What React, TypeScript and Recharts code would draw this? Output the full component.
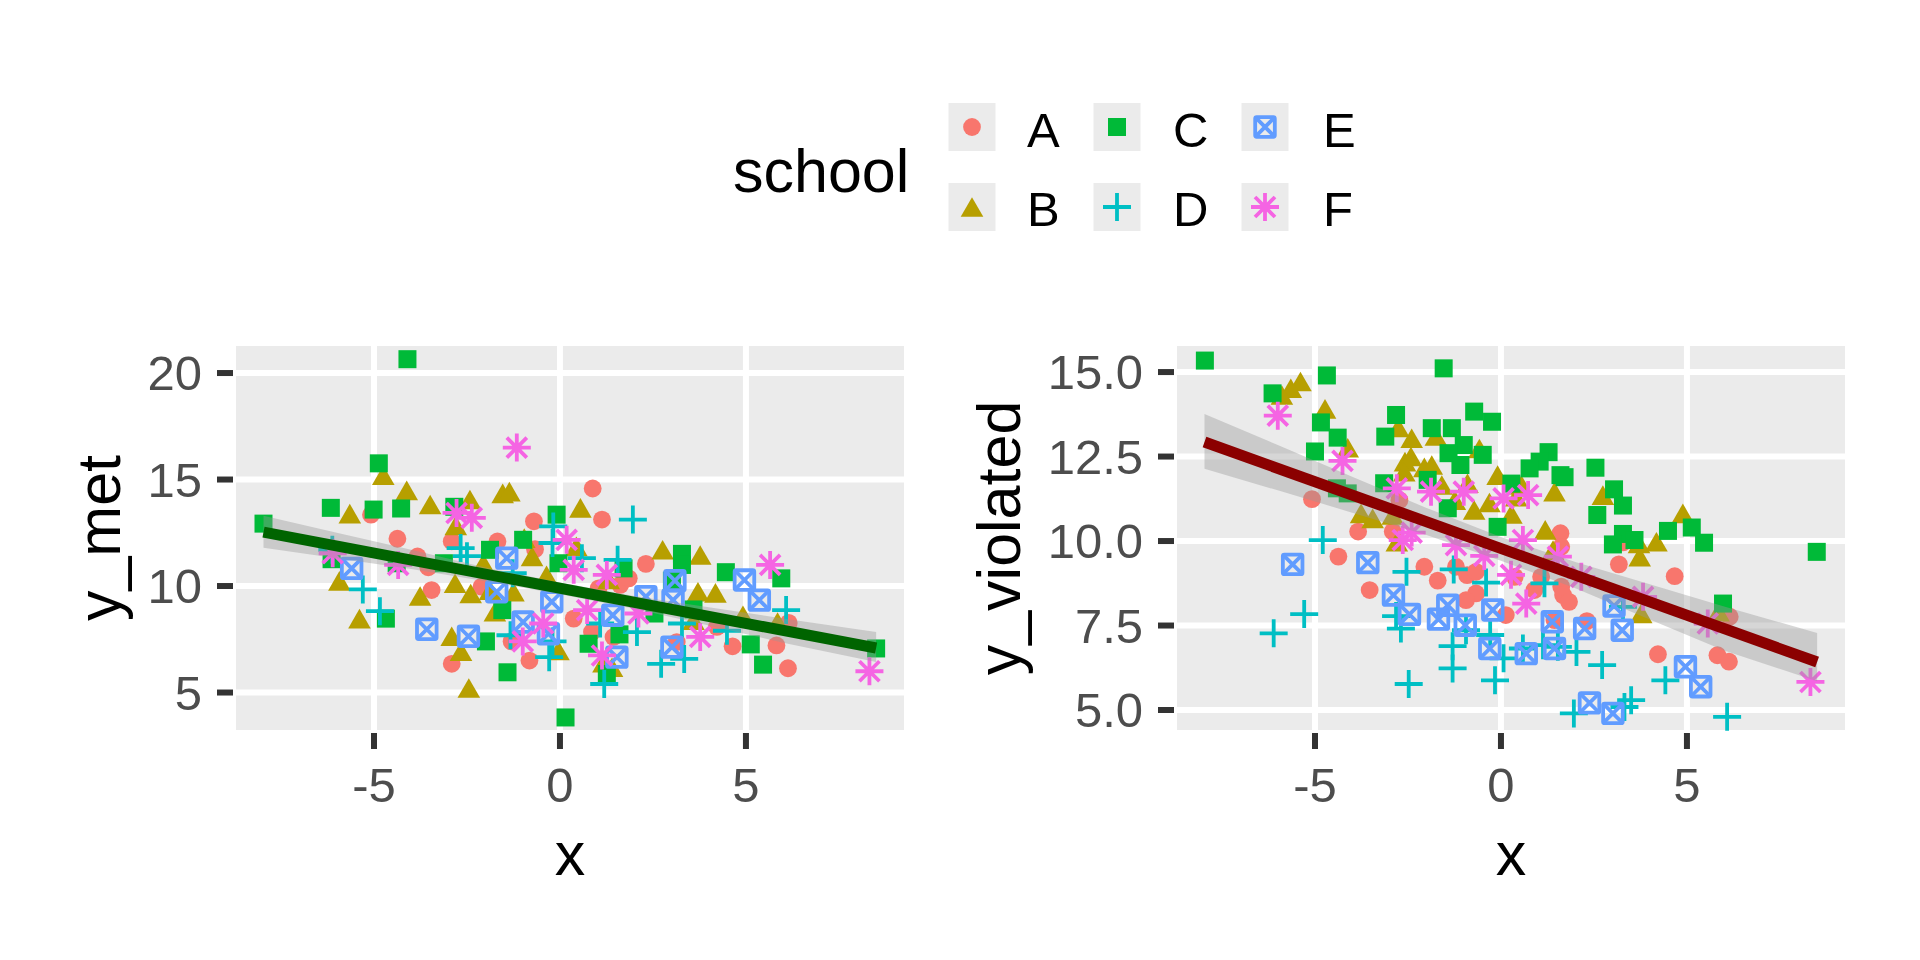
import {
  ComposedChart,
  Scatter,
  Area,
  Line,
  XAxis,
  YAxis,
  CartesianGrid,
} from "recharts";

const FONT = "'Liberation Sans', Arial, sans-serif";

const SCHOOLS = ["A", "B", "C", "D", "E", "F"];
const SCHOOL_COLORS: Record<string, string> = {
  A: "#F8766D",
  B: "#B79F00",
  C: "#00BA38",
  D: "#00BFC4",
  E: "#619CFF",
  F: "#F564E3",
};
const SCHOOL_SHAPES: Record<string, string> = {
  A: "circle",
  B: "triangle",
  C: "square",
  D: "plus",
  E: "boxcross",
  F: "asterisk",
};

// y_met panel, [x, y] per school
const metA: [number, number][] = [
  [-5.08, 13.35], [-4.37, 12.22], [-3.83, 11.39], [-3.54, 10.88], [-3.45, 9.81], [-2.91, 12.1],
  [-1.68, 12.09], [-0.7, 13.04], [-0.67, 11.73], [-2.11, 9.97], [-2.91, 6.35], [-0.82, 6.5],
  [-1.3, 7.4], [0.37, 8.47], [0.88, 14.58], [1.13, 13.12], [2.31, 11.04], [1.62, 10.05],
  [1.85, 10.36], [1.04, 9.89], [0.86, 7.84], [1.44, 7.61], [3.14, 7.37], [4.64, 7.17],
  [5.82, 7.21], [6.15, 8.27], [6.13, 6.14], [4.22, 8.08],
];
const metB: [number, number][] = [
  [-4.75, 15.2], [-4.12, 14.49], [-3.49, 13.83], [-5.65, 13.4], [-2.42, 14.06], [-1.54, 14.35],
  [-1.36, 14.43], [-2.8, 12.85], [-0.96, 12.25], [-0.75, 11.39], [-5.93, 10.24], [-5.39, 8.47],
  [-3.76, 9.53], [-2.82, 10.13], [-2.4, 9.65], [-2.06, 11.07], [-1.88, 9.81], [-1.25, 9.73],
  [-1.75, 8.79], [-2.91, 7.64], [-2.66, 6.94], [-2.45, 5.21], [-0.04, 6.98], [-0.36, 10.5],
  [0.55, 13.67], [0.44, 11.86], [2.76, 11.7], [3.77, 11.46], [1.31, 10.31], [3.71, 9.73],
  [4.18, 9.68], [4.92, 8.63], [5.85, 8.31], [3.59, 8.39], [1.4, 6.19], [1.17, 6.4],
];
const metC: [number, number][] = [
  [-4.1, 20.65], [-4.87, 15.76], [-7.97, 12.93], [-6.16, 13.67], [-5.01, 13.59], [-4.27, 13.64],
  [-2.84, 13.72], [-6.14, 11.26], [-4.39, 11.07], [-4.68, 8.47], [-1.88, 11.7], [-0.09, 13.35],
  [-0.99, 12.17], [-0.04, 11.07], [-1.55, 8.87], [-1.99, 7.4], [-1.41, 5.95], [0.15, 3.83],
  [-3.12, 11.07], [3.28, 11.51], [3.28, 10.99], [4.46, 10.65], [5.95, 10.36], [1.71, 10.83],
  [3.01, 10.25], [3.59, 8.9], [1.6, 7.73], [0.77, 7.29], [2.54, 8.71], [5.13, 7.26],
  [5.46, 6.31], [8.5, 7.07], [1.26, 5.87],
];
const metD: [number, number][] = [
  [-5.3, 9.84], [-4.84, 8.82], [-6.12, 11.7], [-2.67, 11.78], [-2.5, 11.4], [-0.18, 12.8],
  [-0.2, 12.02], [-1.27, 10.6], [-1.33, 7.69], [-0.29, 6.66], [-0.2, 7.4], [1.96, 13.12],
  [1.55, 11.23], [0.59, 11.31], [2.07, 7.84], [1.08, 8.24], [2.72, 6.35], [3.34, 6.58],
  [1.19, 5.4], [6.08, 8.87], [4.49, 7.9], [3.28, 8.24],
];
const metE: [number, number][] = [
  [-5.6, 10.83], [-1.43, 11.31], [-3.58, 7.97], [-2.46, 7.64], [-0.99, 8.31], [-0.22, 9.26],
  [-0.31, 7.76], [-1.7, 9.73], [3.09, 10.25], [4.96, 10.28], [5.36, 9.34], [3.04, 9.34],
  [2.31, 9.5], [1.42, 8.63], [3.01, 7.13], [1.53, 6.66],
];
const metF: [number, number][] = [
  [-1.16, 16.5], [-2.78, 13.43], [-2.37, 13.2], [-6.11, 11.54], [-4.35, 10.99], [-0.45, 8.24],
  [-1.0, 7.4], [0.18, 12.17], [5.65, 10.99], [0.37, 10.76], [1.26, 10.52], [0.73, 8.87],
  [2.11, 8.71], [3.77, 7.61], [1.13, 6.74], [8.32, 6.0],
];

// y_violated panel
const violA: [number, number][] = [
  [-5.08, 11.24], [-3.84, 10.28], [-4.37, 9.54], [-3.53, 8.55], [-2.91, 10.28], [-2.73, 11.21],
  [-2.06, 9.24], [-1.7, 8.83], [-1.21, 9.24], [-0.91, 8.99], [-0.67, 9.09], [-0.67, 8.45],
  [-0.94, 8.25], [0.13, 7.81], [1.6, 10.23], [1.62, 9.83], [3.28, 9.96], [3.17, 9.31],
  [4.67, 8.96], [0.37, 8.94], [1.08, 8.94], [0.9, 8.55], [1.62, 8.65], [1.67, 8.4],
  [1.83, 8.2], [1.44, 7.66], [2.31, 7.63], [4.22, 6.65], [5.82, 6.62], [6.13, 6.43], [6.15, 7.76],
];
const violB: [number, number][] = [
  [-5.39, 14.72], [-5.65, 14.52], [-5.89, 14.32], [-4.73, 13.91], [-4.12, 12.76], [-2.76, 13.36],
  [-2.4, 13.04], [-1.75, 13.11], [-2.58, 12.35], [-2.42, 12.5], [-2.6, 12.05], [-2.06, 12.18],
  [-1.86, 12.25], [-1.59, 11.66], [-0.58, 12.74], [-0.9, 11.71], [-1.24, 11.21], [-0.72, 10.92],
  [-0.31, 11.14], [-0.09, 11.95], [-3.76, 10.82], [-3.45, 10.67], [-2.91, 10.77], [-2.8, 9.98],
  [0.55, 11.66], [0.41, 11.31], [1.44, 11.46], [2.74, 11.36], [0.28, 10.8], [1.19, 10.33],
  [1.4, 9.73], [3.71, 9.93], [3.73, 9.54], [4.18, 9.98], [4.89, 10.82], [3.77, 7.86], [5.85, 7.91],
];
const violC: [number, number][] = [
  [-7.96, 15.34], [-6.14, 14.37], [-4.68, 14.9], [-4.84, 13.51], [-4.39, 13.06], [-5.0, 12.65],
  [-1.54, 15.11], [-2.82, 13.73], [-3.11, 13.09], [-1.86, 13.34], [-1.32, 13.34], [-0.72, 13.83],
  [-0.24, 13.53], [-1.0, 12.84], [-1.41, 12.6], [-0.49, 12.55], [-1.09, 12.25], [-3.14, 11.71],
  [-1.97, 11.81], [-1.43, 10.97], [-4.41, 11.56], [-4.12, 11.41], [-0.09, 10.42], [1.28, 12.63],
  [1.04, 12.35], [0.77, 12.15], [1.6, 11.95], [1.71, 11.89], [2.54, 12.17], [3.04, 11.53],
  [3.28, 11.05], [2.59, 10.77], [3.28, 10.21], [3.59, 10.03], [3.01, 9.9], [4.49, 10.3],
  [5.13, 10.4], [5.46, 9.95], [8.49, 9.68], [5.97, 8.15], [0.28, 11.7],
];
const violD: [number, number][] = [
  [-4.79, 10.03], [-5.29, 7.84], [-6.11, 7.27], [-2.54, 9.09], [-1.27, 9.16], [-0.4, 8.77],
  [-2.82, 7.78], [-2.69, 7.41], [-0.94, 7.36], [-1.3, 6.89], [-1.3, 6.23], [-2.48, 5.77],
  [-0.16, 5.88], [-0.29, 7.22], [0.07, 6.53], [1.17, 8.75], [0.59, 6.82], [1.13, 6.92],
  [1.53, 6.87], [2.03, 6.72], [2.72, 6.33], [4.42, 5.88], [3.5, 5.29], [3.32, 5.09],
  [1.96, 4.9], [6.08, 4.8], [3.28, 8.05],
];
const violE: [number, number][] = [
  [-5.6, 9.31], [-3.58, 9.36], [-2.89, 8.4], [-2.46, 7.83], [-1.68, 7.69], [-1.43, 8.1],
  [-0.96, 7.51], [-0.22, 7.96], [-0.3, 6.82], [1.38, 7.61], [2.25, 7.41], [3.04, 8.08],
  [3.26, 7.36], [0.68, 6.67], [1.44, 6.82], [4.96, 6.28], [5.37, 5.69], [2.38, 5.21], [3.01, 4.9],
];
const violF: [number, number][] = [
  [-6.0, 13.71], [-4.26, 12.37], [-2.8, 11.56], [-1.88, 11.46], [-1.0, 11.46], [-2.4, 10.25],
  [-2.64, 10.03], [-1.21, 9.88], [-0.45, 9.56], [0.07, 11.26], [0.27, 9.0], [0.59, 10.03],
  [0.73, 11.36], [1.53, 9.54], [2.16, 8.94], [0.68, 8.15], [3.82, 8.35], [5.56, 7.56], [8.32, 5.83],
];

// smoother: fitted line ends and confidence band
const bandX = [-7.97, -6, -4, -2, 0, 2, 4, 6, 8.5];
const metBandLo = [11.8, 11.3, 10.8, 10.23, 9.62, 8.93, 8.15, 7.34, 6.43];
const metBandHi = [13.3, 12.5, 11.7, 10.87, 10.16, 9.53, 9.0, 8.48, 7.84];
const metFit = [12.53, 7.09];
const violBandLo = [12.14, 11.5, 10.84, 10.18, 9.42, 8.6, 7.68, 6.76, 5.85];
const violBandHi = [13.76, 12.84, 11.9, 10.98, 10.12, 9.38, 8.72, 8.06, 7.28];
const violFit = [12.93, 6.42];

const X_TICKS = [-5, 0, 5];
const MET_TICKS = [5, 10, 15, 20];
const VIOL_TICKS = [5, 7.5, 10, 12.5, 15];

const toPoints = (arr: [number, number][]) => arr.map(([x, y]) => ({ x, y }));

const buildSmooth = (lo: number[], hi: number[], fit: number[]) =>
  bandX.map((x, i) => ({
    x,
    band: [lo[i], hi[i]],
    fit: i === 0 ? fit[0] : i === bandX.length - 1 ? fit[1] : null,
  }));

function Glyph({ cx, cy, shape, color }: { cx: number; cy: number; shape: string; color: string }) {
  if (cx == null || cy == null) return null;
  switch (shape) {
    case "circle":
      return <circle cx={cx} cy={cy} r={8.9} fill={color} />;
    case "square":
      return <rect x={cx - 9} y={cy - 9} width={18} height={18} fill={color} />;
    case "triangle":
      return (
        <polygon
          points={`${cx},${cy - 9.8} ${cx + 11.3},${cy + 9.8} ${cx - 11.3},${cy + 9.8}`}
          fill={color}
        />
      );
    case "plus":
      return (
        <path
          d={`M${cx - 14},${cy}H${cx + 14}M${cx},${cy - 14}V${cy + 14}`}
          stroke={color}
          strokeWidth={3.8}
          fill="none"
        />
      );
    case "boxcross":
      return (
        <g stroke={color} strokeWidth={3.8} fill="none">
          <rect x={cx - 9.8} y={cy - 9.8} width={19.6} height={19.6} rx={1.5} />
          <path d={`M${cx - 9.8},${cy - 9.8}L${cx + 9.8},${cy + 9.8}M${cx + 9.8},${cy - 9.8}L${cx - 9.8},${cy + 9.8}`} />
        </g>
      );
    default:
      return (
        <path
          d={`M${cx - 14},${cy}H${cx + 14}M${cx},${cy - 14}V${cy + 14}M${cx - 10},${cy - 10}L${cx + 10},${cy + 10}M${cx + 10},${cy - 10}L${cx - 10},${cy + 10}`}
          stroke={color}
          strokeWidth={3.8}
          fill="none"
        />
      );
  }
}

function AxisTitle({ tx, ty, rotate, text }: { tx: number; ty: number; rotate?: boolean; text: string }) {
  return (
    <text
      x={tx}
      y={ty}
      textAnchor="middle"
      transform={rotate ? `rotate(-90 ${tx} ${ty})` : undefined}
      style={{ fontFamily: FONT, fontSize: 61, fill: "#000" }}
    >
      {text}
    </text>
  );
}

type PanelProps = {
  left: number;
  yTitle: string;
  yTitleX: number;
  yAxisWidth: number;
  rightMargin: number;
  yDomain: [number, number];
  yTicks: number[];
  yFormat?: (v: number) => string;
  series: [number, number][][];
  smooth: { x: number; band: number[]; fit: number | null }[];
  lineColor: string;
};

function Panel(p: PanelProps) {
  const tickStyle = { fill: "#4D4D4D", fontSize: 49, fontFamily: FONT };
  const tickLine = { stroke: "#333333", strokeWidth: 6 };
  return (
    <div style={{ position: "absolute", left: p.left, top: 0 }}>
      <ComposedChart
        width={960}
        height={960}
        data={p.smooth}
        margin={{ top: 343, right: p.rightMargin, bottom: 127, left: 0 }}
      >
        <CartesianGrid fill="#EBEBEB" fillOpacity={1} stroke="#FFFFFF" strokeWidth={6} />
        <XAxis
          type="number"
          dataKey="x"
          domain={[-8.79, 9.33]}
          ticks={X_TICKS}
          allowDataOverflow
          height={100}
          axisLine={false}
          tickLine={tickLine}
          tickSize={16}
          tickMargin={18}
          tick={tickStyle}
          label={<AxisTitle tx={p.yAxisWidth + (960 - p.yAxisWidth - p.rightMargin) / 2} ty={875} text="x" />}
        />
        <YAxis
          type="number"
          dataKey="y"
          domain={p.yDomain}
          ticks={p.yTicks}
          allowDataOverflow
          width={p.yAxisWidth}
          axisLine={false}
          tickLine={tickLine}
          tickSize={16}
          tickMargin={15}
          tick={tickStyle}
          tickFormatter={p.yFormat}
          label={<AxisTitle tx={p.yTitleX} ty={538} rotate text={p.yTitle} />}
        />
        {p.series.map((pts, i) => (
          <Scatter
            key={SCHOOLS[i]}
            data={toPoints(pts)}
            isAnimationActive={false}
            shape={(s: any) => (
              <Glyph cx={s.cx} cy={s.cy} shape={SCHOOL_SHAPES[SCHOOLS[i]]} color={SCHOOL_COLORS[SCHOOLS[i]]} />
            )}
          />
        ))}
        <Area
          type="linear"
          dataKey="band"
          stroke="none"
          fill="#999999"
          fillOpacity={0.4}
          isAnimationActive={false}
          activeDot={false}
          zIndex={700}
        />
        <Line
          type="linear"
          dataKey="fit"
          connectNulls
          stroke={p.lineColor}
          strokeWidth={11}
          dot={false}
          activeDot={false}
          isAnimationActive={false}
          zIndex={800}
        />
      </ComposedChart>
    </div>
  );
}

function SchoolLegend() {
  const cols = [272, 417, 565];
  const rows = [47, 127];
  const labelX = [327, 473, 623];
  const labelY = [67, 146];
  return (
    <svg width={680} height={170} style={{ position: "absolute", left: 700, top: 80 }}>
      <text x={33} y={112} style={{ fontFamily: FONT, fontSize: 61, fill: "#000" }}>
        school
      </text>
      {SCHOOLS.map((s, i) => {
        const c = Math.floor(i / 2);
        const r = i % 2;
        return (
          <g key={s}>
            <rect x={cols[c] - 23.5} y={rows[r] - 24} width={47} height={48} fill="#EBEBEB" />
            <Glyph cx={cols[c]} cy={rows[r]} shape={SCHOOL_SHAPES[s]} color={SCHOOL_COLORS[s]} />
            <text x={labelX[c]} y={labelY[r]} style={{ fontFamily: FONT, fontSize: 49, fill: "#000" }}>
              {s}
            </text>
          </g>
        );
      })}
    </svg>
  );
}

export default function App() {
  return (
    <div style={{ position: "absolute", left: 0, top: 0, width: 1920, height: 960, background: "#fff" }}>
      <SchoolLegend />
      <Panel
        left={0}
        yTitle="y_met"
        yTitleX={120}
        yAxisWidth={233}
        rightMargin={53}
        yDomain={[3.1, 21.41]}
        yTicks={MET_TICKS}
        series={[metA, metB, metC, metD, metE, metF]}
        smooth={buildSmooth(metBandLo, metBandHi, metFit)}
        lineColor="#006400"
      />
      <Panel
        left={960}
        yTitle="y_violated"
        yTitleX={60}
        yAxisWidth={214}
        rightMargin={72}
        yDomain={[4.32, 15.86]}
        yTicks={VIOL_TICKS}
        yFormat={(v: number) => v.toFixed(1)}
        series={[violA, violB, violC, violD, violE, violF]}
        smooth={buildSmooth(violBandLo, violBandHi, violFit)}
        lineColor="#8B0000"
      />
    </div>
  );
}
